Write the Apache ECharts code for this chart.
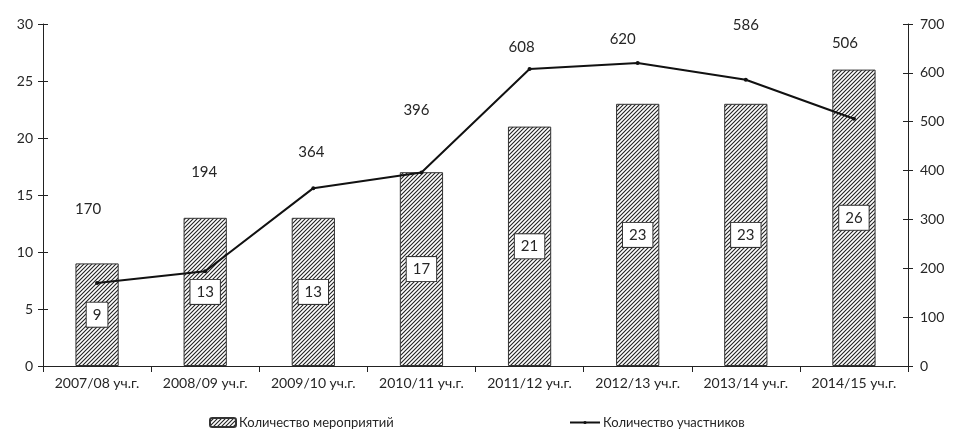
<!DOCTYPE html>
<html>
<head>
<meta charset="utf-8">
<script src="https://cdn.jsdelivr.net/npm/echarts@6/dist/echarts.min.js"></script>
<style>
html,body{margin:0;padding:0;background:#fff;}
#c{width:954px;height:430px;}
</style>
</head>
<body>
<div id="c"></div>
<script>
var categories = ['2007/08 уч.г.','2008/09 уч.г.','2009/10 уч.г.','2010/11 уч.г.','2011/12 уч.г.','2012/13 уч.г.','2013/14 уч.г.','2014/15 уч.г.'];
var eventsCount = [9, 13, 13, 17, 21, 23, 23, 26];
var participants = [170, 194, 364, 396, 608, 620, 586, 506];
var leftTicks = {min: 0, max: 30, interval: 5};
var rightTicks = {min: 0, max: 700, interval: 100};
var seriesNames = ['Количество мероприятий', 'Количество участников'];
// label offsets (styling only) for participant labels
var lineLabelOffsets = [[-9,-74],[-1,-99],[-2,-36],[-5,-62],[-8,-22],[-15,-24],[0,-55],[-9,-76]];

var FONT = 'Lato';
var TXT = '#262626';

function makePattern(){
  var s = 4;
  var cv = document.createElement('canvas');
  cv.width = s; cv.height = s;
  var ctx = cv.getContext('2d');
  ctx.fillStyle = '#fff';
  ctx.fillRect(0,0,s,s);
  ctx.strokeStyle = '#222';
  ctx.lineWidth = 1.1;
  ctx.beginPath();
  ctx.moveTo(-1, s+1); ctx.lineTo(s+1, -1);
  ctx.moveTo(-1, 1); ctx.lineTo(1, -1);
  ctx.moveTo(s-1, s+1); ctx.lineTo(s+1, s-1);
  ctx.stroke();
  return cv;
}
var pattern = {image: makePattern(), repeat: 'repeat'};

var chart = echarts.init(document.getElementById('c'), null, {renderer: 'canvas'});

var lineData = participants.map(function(v, i){
  return {value: v, label: {offset: lineLabelOffsets[i]}};
});

chart.setOption({
  animation: false,
  textStyle: {fontFamily: FONT},
  grid: {left: 43, right: 46, top: 24, bottom: 64},
  legend: [
    {
      left: 204, top: 411,
      itemWidth: 26, itemHeight: 9, itemGap: 4,
      textStyle: {fontFamily: FONT, fontSize: 13, color: TXT, padding: [0,0,0,-2]},
      data: [seriesNames[0]]
    },
    {
      left: 564, top: 411,
      itemWidth: 30, itemHeight: 4,
      textStyle: {fontFamily: FONT, fontSize: 13, color: TXT, padding: [0,0,0,-2]},
      data: [seriesNames[1]]
    }
  ],
  xAxis: {
    type: 'category',
    data: categories,
    boundaryGap: true,
    axisLine: {lineStyle: {color: '#222', width: 1}},
    axisTick: {show: true, length: 6, alignWithLabel: false, lineStyle: {color: '#222'}},
    axisLabel: {color: TXT, fontFamily: FONT, fontSize: 14, margin: 10, interval: 0}
  },
  yAxis: [
    {
      type: 'value', position: 'left',
      min: leftTicks.min, max: leftTicks.max, interval: leftTicks.interval,
      axisLine: {show: true, lineStyle: {color: '#222'}},
      axisTick: {show: true, length: 5, lineStyle: {color: '#222'}},
      axisLabel: {color: TXT, fontFamily: FONT, fontSize: 14, margin: 10},
      splitLine: {show: false}
    },
    {
      type: 'value', position: 'right',
      min: rightTicks.min, max: rightTicks.max, interval: rightTicks.interval,
      axisLine: {show: true, lineStyle: {color: '#222'}},
      axisTick: {show: true, length: 5, lineStyle: {color: '#222'}},
      axisLabel: {color: TXT, fontFamily: FONT, fontSize: 14, margin: 12},
      splitLine: {show: false}
    },
    {
      type: 'value', position: 'left',
      min: leftTicks.min, max: leftTicks.max, interval: leftTicks.interval,
      axisLine: {show: false},
      axisTick: {show: true, inside: true, length: 5, lineStyle: {color: '#222'}},
      axisLabel: {show: false},
      splitLine: {show: false}
    },
    {
      type: 'value', position: 'right',
      min: rightTicks.min, max: rightTicks.max, interval: rightTicks.interval,
      axisLine: {show: false},
      axisTick: {show: true, inside: true, length: 5, lineStyle: {color: '#222'}},
      axisLabel: {show: false},
      splitLine: {show: false}
    }
  ],
  series: [
    {
      name: seriesNames[0],
      type: 'bar',
      yAxisIndex: 0,
      barWidth: '40%',
      data: eventsCount,
      itemStyle: {color: pattern, borderColor: '#333', borderWidth: 1},
      label: {
        show: true, position: 'inside',
        color: TXT, fontFamily: FONT, fontSize: 15,
        backgroundColor: '#fff', borderColor: '#333', borderWidth: 1,
        padding: [5, 6, 4, 6]
      }
    },
    {
      name: seriesNames[1],
      type: 'line',
      yAxisIndex: 1,
      data: lineData,
      symbol: 'circle', symbolSize: 4,
      lineStyle: {color: '#111', width: 2},
      itemStyle: {color: '#111'},
      label: {
        show: true, position: 'inside',
        color: TXT, fontFamily: FONT, fontSize: 15
      }
    }
  ]
});
</script>
</body>
</html>
